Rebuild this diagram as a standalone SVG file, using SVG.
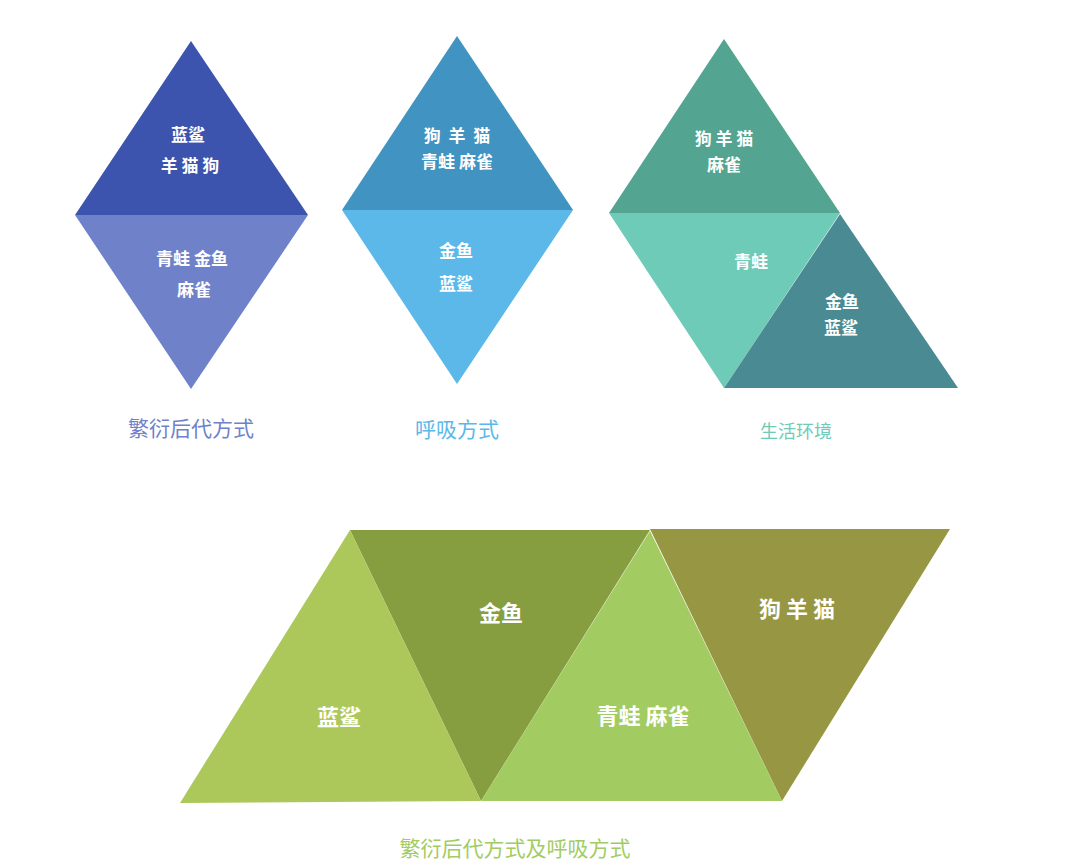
<svg xmlns="http://www.w3.org/2000/svg" width="1086" height="868" viewBox="0 0 1086 868">
<style>
.t{font-family:"Noto Sans CJK SC","Noto Sans",sans-serif;fill:#fff;text-anchor:middle;font-weight:bold;dominant-baseline:central}
.s{font-size:17px}
.b{font-size:22px}
.lab{font-family:"Noto Sans CJK SC","Noto Sans",sans-serif;text-anchor:middle;dominant-baseline:central}
</style>
<rect width="1086" height="868" fill="#fff"/>
<g id="diamond1">
<polygon points="191,41 75,215 308,215" fill="#3c54ae"/>
<polygon points="75,215 308,215 191,389" fill="#6f82c9"/>
<text class="t s" x="188" y="133">蓝鲨</text>
<text class="t s" x="190" y="164">羊 猫 狗</text>
<text class="t s" x="192" y="257">青蛙 金鱼</text>
<text class="t s" x="194" y="288">麻雀</text>
<text class="lab" x="191" y="427" font-size="21" fill="#6f82c9">繁衍后代方式</text>
</g>
<g id="diamond2">
<polygon points="457,36 342,210 573,210" fill="#4193c2"/>
<polygon points="342,210 573,210 457,384" fill="#5bb8e9"/>
<text class="t s" x="457" y="134" style="white-space:pre">狗  羊  猫</text>
<text class="t s" x="457" y="160">青蛙 麻雀</text>
<text class="t s" x="456" y="249">金鱼</text>
<text class="t s" x="456" y="282">蓝鲨</text>
<text class="lab" x="457" y="428" font-size="21" fill="#5bb8e9">呼吸方式</text>
</g>
<g id="group3">
<polygon points="724,39 609,213 840,213" fill="#53a591"/>
<polygon points="609,213 840,213 724,388" fill="#6ecbb8"/>
<polygon points="840,214 724,388 958,388" fill="#4a8a93"/>
<text class="t s" x="724" y="137">狗 羊 猫</text>
<text class="t s" x="724" y="163">麻雀</text>
<text class="t s" x="751" y="260">青蛙</text>
<text class="t s" x="842" y="300">金鱼</text>
<text class="t s" x="841" y="326">蓝鲨</text>
<text class="lab" x="796" y="430" font-size="18" fill="#6ecbb8">生活环境</text>
</g>
<g id="bottom">
<polygon points="350,530 650,530 481,801" fill="#869d40"/>
<polygon points="650,529 950,529 782,801" fill="#979643"/>
<polygon points="350,530 180,803 481,801" fill="#adc85a"/>
<polygon points="650,531 481,801 782,801" fill="#a2cc62"/>
<text class="t b" x="501" y="611">金鱼</text>
<text class="t b" x="797" y="607">狗 羊 猫</text>
<text class="t b" x="339" y="715">蓝鲨</text>
<text class="t b" x="643" y="714">青蛙 麻雀</text>
<text class="lab" x="515" y="847" font-size="21" fill="#a2cc62">繁衍后代方式及呼吸方式</text>
</g>
</svg>
